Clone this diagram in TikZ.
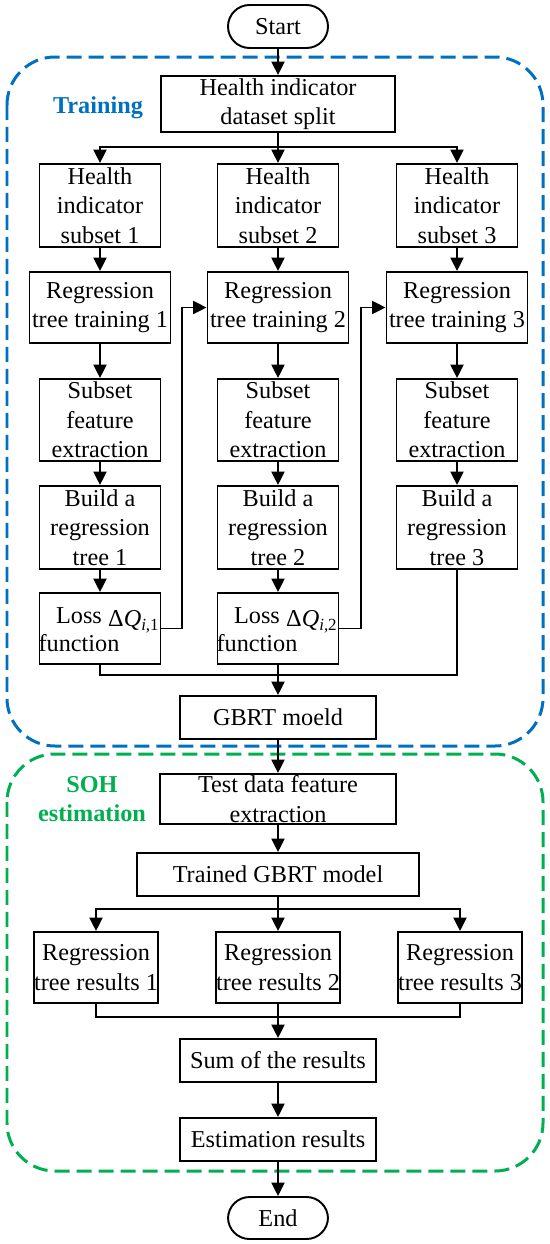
\documentclass[tikz,border=0pt]{standalone}
\usepackage{fontspec}
\setmainfont{Liberation Serif}
\usetikzlibrary{arrows.meta,calc,positioning}
\definecolor{gbInk}{HTML}{000000}
\definecolor{gbBlue}{HTML}{0070C0}
\definecolor{gbGreen}{HTML}{00B050}
\tikzset{
  every node/.style={font=\fontsize{13.8pt}{16.7pt}\selectfont, text=gbInk},
  stepBox/.style={rectangle, draw=gbInk, line width=1.1pt, fill=white,
    align=center, inner sep=0pt},
  terminal/.style={stepBox, rounded corners=0.43cm, minimum width=2.00cm,
    minimum height=0.86cm},
  colBox/.style={stepBox, minimum width=2.42cm, minimum height=1.66cm},
  trainBox/.style={stepBox, minimum width=2.82cm, minimum height=1.42cm},
  wideBox/.style={stepBox, minimum width=3.92cm, minimum height=0.86cm},
  phaseFrame/.style={line width=0.06cm, rounded corners=0.96cm,
    dash pattern=on 0.30cm off 0.14cm},
  phaseTag/.style={font=\fontsize{13.8pt}{16.7pt}\selectfont\bfseries,
    align=center},
  flow/.style={-{Triangle[length=0.27cm,width=0.26cm]}, line width=1.1pt,
    color=gbInk},
  link/.style={line width=1.1pt, color=gbInk},
}

\begin{document}
\begin{tikzpicture}[x=0.02cm,y=-0.02cm]
  \useasboundingbox (0,0) rectangle (550,1244);

  % Dashed phase frames.
  \draw[phaseFrame, draw=gbBlue] (7,57) rectangle (543,746);
  \draw[phaseFrame, draw=gbGreen] (7,754) rectangle (543,1171);
  \node[phaseTag, text=gbBlue] (trainTag) at (98,108) {Training};
  \node[phaseTag, text=gbGreen] (sohTag) at (92,799) {SOH\\estimation};

  % Training phase.
  \node[terminal] (start) at (278,26.5) {Start};
  \node[stepBox, minimum width=4.68cm, minimum height=1.12cm] (split)
    at (278,104) {Health indicator\\dataset split};
  \draw[flow] (start) -- (split);
  \coordinate (forkA) at (278,147);
  \draw[link] (split.south) -- (forkA);

  \foreach \k/\x in {1/100,2/278,3/457} {
    \node[colBox] (sub\k) at (\x,205.5) {Health\\indicator\\subset \k};
    \node[trainBox] (train\k) at (\x,307.5) {Regression\\tree training \k};
    \node[colBox, minimum height=1.64cm] (feat\k) at (\x,420)
      {Subset\\feature\\extraction};
    \node[colBox] (build\k) at (\x,527.5) {Build a\\regression\\tree \k};
    \draw[flow] (forkA) -| (sub\k.north);
    \draw[flow] (sub\k) -- (train\k);
    \draw[flow] (train\k) -- (feat\k);
    \draw[flow] (feat\k) -- (build\k);
  }

  \foreach \k/\x in {1/100,2/278} {
    \node[colBox, minimum height=1.42cm] (loss\k) at (\x,628.5) {};
    \node[anchor=base, inner sep=0pt] (lossFn\k)
      at ([xshift=-0.42cm,yshift=-0.45cm]loss\k.center) {function};
    \node[anchor=base, inner sep=0pt] (lossWord\k)
      at ([yshift=0.56cm]lossFn\k.base) {Loss};
    \node[anchor=south east, inner sep=0pt] (dq\k)
      at ([xshift=-0.03cm]loss\k.east |- lossFn\k.north)
      {Δ\textit{Q}\textsubscript{\textit{i},\k}};
    \draw[flow] (build\k) -- (loss\k);
  }

  % Residual hand-over to the next tree.
  \coordinate (loopA) at (182,0);
  \coordinate (loopB) at (361,0);
  \draw[flow] (loss1.east) -- (loss1.east -| loopA) |- (train2.west);
  \draw[flow] (loss2.east) -- (loss2.east -| loopB) |- (train3.west);

  \coordinate (joinA) at (278,675);
  \node[wideBox] (gbrt) at (278,717.5) {GBRT moeld};
  \draw[link] (loss1.south) |- (joinA);
  \draw[link] (build3.south) |- (joinA);
  \draw[flow] (loss2.south) -- (gbrt.north);

  % SOH estimation phase.
  \node[stepBox, minimum width=4.72cm, minimum height=1.00cm] (test)
    at (278,799) {Test data feature\\extraction};
  \node[stepBox, minimum width=5.64cm, minimum height=0.86cm] (trained)
    at (278,874.5) {Trained GBRT model};
  \draw[flow] (gbrt) -- (test);
  \draw[flow] (test) -- (trained);
  \coordinate (forkB) at (278,909);
  \draw[link] (trained.south) -- (forkB);

  \foreach \k/\x in {1/96,2/278,3/460} {
    \node[trainBox, minimum width=2.40cm] (res\k) at (\x,967.5)
      {Regression\\tree results \k};
    \draw[flow] (forkB) -| (res\k.north);
  }

  \coordinate (joinB) at (278,1017);
  \node[wideBox] (sum) at (278,1060.5) {Sum of the results};
  \node[wideBox] (est) at (278,1139.5) {Estimation results};
  \node[terminal, minimum height=0.84cm] (end) at (278,1218) {End};
  \draw[link] (res1.south) |- (joinB);
  \draw[link] (res3.south) |- (joinB);
  \draw[flow] (res2) -- (sum);
  \draw[flow] (sum) -- (est);
  \draw[flow] (est) -- (end);
\end{tikzpicture}
\end{document}
